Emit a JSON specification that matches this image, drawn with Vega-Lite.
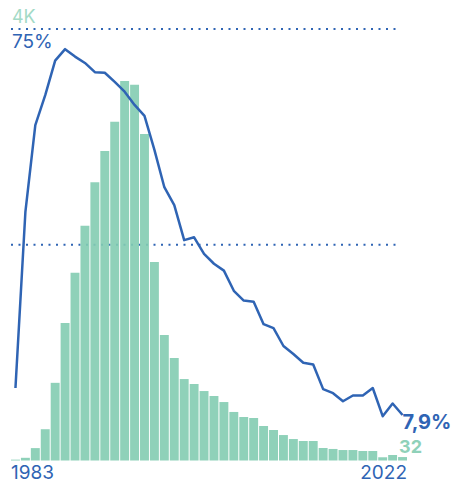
{
  "$schema": "https://vega.github.io/schema/vega-lite/v6.json",
  "width": 396,
  "height": 431.5,
  "autosize": {"type": "none"},
  "padding": {"left": 11, "top": 29, "right": 45, "bottom": 21.5},
  "background": "white",
  "config": {
    "view": {"stroke": null},
    "locale": {"number": {"decimal": ",", "thousands": ".", "grouping": [3], "currency": ["", " €"]}},
    "text": {"font": "Inter"}
  },
  "data": {
    "values": [
      {"year": 1983, "count": 8, "pct": 0.126},
      {"year": 1984, "count": 25, "pct": 0.432},
      {"year": 1985, "count": 115, "pct": 0.583},
      {"year": 1986, "count": 290, "pct": 0.635},
      {"year": 1987, "count": 720, "pct": 0.695},
      {"year": 1988, "count": 1275, "pct": 0.715},
      {"year": 1989, "count": 1740, "pct": 0.702},
      {"year": 1990, "count": 2175, "pct": 0.691},
      {"year": 1991, "count": 2580, "pct": 0.675},
      {"year": 1992, "count": 2868, "pct": 0.674},
      {"year": 1993, "count": 3140, "pct": 0.658},
      {"year": 1994, "count": 3517, "pct": 0.641},
      {"year": 1995, "count": 3483, "pct": 0.618},
      {"year": 1996, "count": 3026, "pct": 0.599},
      {"year": 1997, "count": 1840, "pct": 0.54},
      {"year": 1998, "count": 1163, "pct": 0.475},
      {"year": 1999, "count": 950, "pct": 0.444},
      {"year": 2000, "count": 755, "pct": 0.383},
      {"year": 2001, "count": 709, "pct": 0.388},
      {"year": 2002, "count": 644, "pct": 0.359},
      {"year": 2003, "count": 598, "pct": 0.342},
      {"year": 2004, "count": 542, "pct": 0.33},
      {"year": 2005, "count": 450, "pct": 0.295},
      {"year": 2006, "count": 403, "pct": 0.278},
      {"year": 2007, "count": 394, "pct": 0.276},
      {"year": 2008, "count": 320, "pct": 0.237},
      {"year": 2009, "count": 283, "pct": 0.23},
      {"year": 2010, "count": 236, "pct": 0.199},
      {"year": 2011, "count": 199, "pct": 0.185},
      {"year": 2012, "count": 181, "pct": 0.17},
      {"year": 2013, "count": 181, "pct": 0.167},
      {"year": 2014, "count": 116, "pct": 0.124},
      {"year": 2015, "count": 107, "pct": 0.117},
      {"year": 2016, "count": 97, "pct": 0.103},
      {"year": 2017, "count": 97, "pct": 0.113},
      {"year": 2018, "count": 88, "pct": 0.113},
      {"year": 2019, "count": 88, "pct": 0.126},
      {"year": 2020, "count": 30, "pct": 0.077},
      {"year": 2021, "count": 51, "pct": 0.099},
      {"year": 2022, "count": 32, "pct": 0.079}
    ]
  },
  "encoding": {
    "x": {
      "field": "year",
      "type": "ordinal",
      "scale": {"type": "band", "paddingInner": 0.1, "paddingOuter": 0},
      "axis": {
        "values": [1983, 2022],
        "title": null,
        "labelAngle": 0,
        "ticks": false,
        "tickSize": 0,
        "domain": false,
        "grid": false,
        "labelFont": "Inter",
        "labelFontSize": 19,
        "labelColor": "#2f64b4",
        "labelBaseline": "top",
        "labelPadding": 2.5,
        "labelOverlap": false,
        "labelAlign": {"condition": {"test": "datum.value == 1983", "value": "left"}, "value": "right"},
        "labelOffset": {"condition": {"test": "datum.value == 1983", "value": -4.5}, "value": 4.5}
      }
    }
  },
  "layer": [
    {
      "transform": [{"filter": "datum.year == 1983"}],
      "mark": {"type": "rule", "color": "#2f64b4", "strokeWidth": 2, "strokeDash": [2, 5.5]},
      "encoding": {
        "x": {"datum": 1983, "type": "ordinal", "bandPosition": 0},
        "x2": {"datum": 2022, "bandPosition": 0},
        "y": {"datum": 4000, "type": "quantitative", "scale": {"domain": [0, 4000], "nice": false}, "axis": null}
      }
    },
    {
      "transform": [{"filter": "datum.year == 1983"}],
      "mark": {"type": "rule", "color": "#2f64b4", "strokeWidth": 2, "strokeDash": [2, 5.5]},
      "encoding": {
        "x": {"datum": 1983, "type": "ordinal", "bandPosition": 0},
        "x2": {"datum": 2022, "bandPosition": 0},
        "y": {"datum": 2000, "type": "quantitative", "scale": {"domain": [0, 4000], "nice": false}, "axis": null}
      }
    },
    {
      "mark": {"type": "bar", "color": "#83ccb1", "opacity": 0.9},
      "encoding": {
        "y": {
          "field": "count",
          "type": "quantitative",
          "scale": {"domain": [0, 4000], "nice": false},
          "axis": null
        }
      }
    },
    {
      "mark": {"type": "line", "color": "#2f64b4", "strokeWidth": 2.5, "strokeJoin": "round"},
      "encoding": {
        "y": {"field": "pct", "type": "quantitative", "scale": {"domain": [0, 0.75], "nice": false}, "axis": null}
      }
    },
    {
      "transform": [{"filter": "datum.year == 2022"}],
      "mark": {"type": "text", "align": "left", "baseline": "middle", "dx": 0, "dy": 8, "fontSize": 20, "fontWeight": "bold", "color": "#2f64b4"},
      "encoding": {
        "y": {"field": "pct", "type": "quantitative", "scale": {"domain": [0, 0.75], "nice": false}, "axis": null},
        "text": {"field": "pct", "type": "quantitative", "format": ".1%"}
      }
    },
    {
      "transform": [{"filter": "datum.year == 2022"}],
      "mark": {"type": "text", "align": "left", "baseline": "middle", "dx": -3.5, "dy": -9, "fontSize": 18, "fontWeight": "bold", "color": "#8fd1b9"},
      "encoding": {
        "y": {"field": "count", "type": "quantitative", "scale": {"domain": [0, 4000], "nice": false}, "axis": null},
        "text": {"field": "count", "type": "quantitative"}
      }
    },
    {
      "transform": [{"filter": "datum.year == 1983"}],
      "mark": {"type": "text", "align": "left", "baseline": "alphabetic", "dx": -3.5, "dy": -6, "fontSize": 18, "color": "#a3dac6"},
      "encoding": {
        "y": {"datum": 4000, "type": "quantitative", "scale": {"domain": [0, 4000], "nice": false}, "axis": null},
        "text": {"value": "4K"}
      }
    },
    {
      "transform": [{"filter": "datum.year == 1983"}],
      "mark": {"type": "text", "align": "left", "baseline": "alphabetic", "dx": -3.5, "dy": 19.3, "fontSize": 19, "color": "#2f64b4"},
      "encoding": {
        "y": {"datum": 0.75, "type": "quantitative", "scale": {"domain": [0, 0.75], "nice": false}, "axis": null},
        "text": {"value": "75%"}
      }
    }
  ],
  "resolve": {"scale": {"y": "independent"}}
}
